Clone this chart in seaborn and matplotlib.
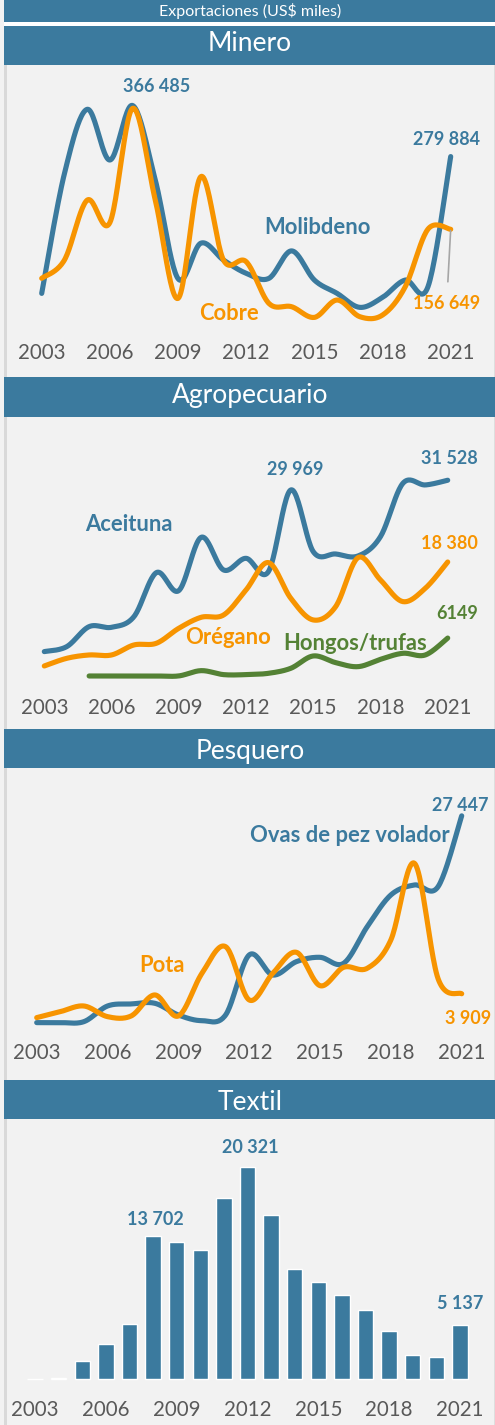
import numpy as np
import matplotlib
matplotlib.use("Agg")
import matplotlib.pyplot as plt
import seaborn as sns
from matplotlib.patches import Rectangle

# ---------------- data ----------------
years = list(range(2003, 2022))
tick_years = [2003, 2006, 2009, 2012, 2015, 2018, 2021]

molibdeno = [48000, 251000, 360000, 274000, 366485, 240000, 73000, 133000, 104500,
             82000, 73500, 120000, 70600, 48000, 24300, 41200, 70600, 59300, 279884]
cobre = [73500, 104500, 206000, 168000, 361600, 206000, 39500, 245800, 104500,
         101700, 31000, 25400, 7300, 36700, 8500, 11300, 59300, 156900, 156649]

aceituna = [3970, 4770, 7990, 7880, 9590, 16670, 13780, 22350, 17100, 18970,
            16830, 29969, 20050, 19670, 19350, 22460, 31030, 30770, 31528]
oregano = [1660, 2890, 3430, 3430, 5040, 5310, 7720, 9490, 9860, 13880,
           18280, 12540, 9060, 11200, 19080, 15490, 12010, 14150, 18380]
hongos_years = list(range(2005, 2022))
hongos = [50, 50, 50, 50, 60, 910, 270, 270, 480, 1290, 3270, 2200, 1550,
          2730, 3700, 3430, 6149]

ovas = [90, 90, 220, 2290, 2560, 2650, 1100, 350, 1100, 9040, 6390, 8160,
        8730, 7940, 12790, 16980, 18300, 18080, 27447]
pota = [750, 1540, 2290, 880, 970, 3750, 970, 6620, 10140, 3090, 6620, 9390,
        4980, 7410, 7280, 11030, 21170, 5900, 3909]

textil = [40, 80, 1720, 3320, 5260, 13702, 13080, 12310, 17290, 20321, 15660,
          10560, 9280, 8010, 6600, 4590, 2330, 2140, 5137]

main_title = "Exportaciones (US$ miles)"
sections = ["Minero", "Agropecuario", "Pesquero", "Textil"]

# ---------------- style ----------------
BLUE = "#3B7A9E"
ORANGE = "#F79400"
GREEN = "#548235"
BG = "#F2F2F2"
TICK = "#595959"

sns.set_style("white")
plt.rcParams["font.family"] = ["Lato", "DejaVu Sans"]

W, H = 495, 1425
fig = plt.figure(figsize=(W / 100, H / 100), dpi=100, facecolor=BG)


def fx(x):
    return x / W


def fy(y):
    return 1 - y / H


def rect(x0, y0, x1, y1, color):
    fig.add_artist(Rectangle((fx(x0), fy(y1)), (x1 - x0) / W, (y1 - y0) / H,
                             transform=fig.transFigure, color=color, lw=0,
                             zorder=0))


def smooth(xs, ys, n=24):
    P = np.column_stack([np.asarray(xs, float), np.asarray(ys, float)])
    ext = np.vstack([P[0], P, P[-1]])
    out = []
    for i in range(len(P) - 1):
        p0, p1, p2, p3 = ext[i], ext[i + 1], ext[i + 2], ext[i + 3]
        c1 = p1 + (p2 - p0) / 6
        c2 = p2 - (p3 - p1) / 6
        t = np.linspace(0, 1, n, endpoint=(i == len(P) - 2))[:, None]
        out.append((1 - t) ** 3 * p1 + 3 * (1 - t) ** 2 * t * c1
                   + 3 * (1 - t) * t ** 2 * c2 + t ** 3 * p2)
    pts = np.vstack(out)
    return pts[:, 0], pts[:, 1]


def make_ax(top, bottom, x0px, x1px, zero_px, per_px, tick_center,
            left=10, right=490):
    ax = fig.add_axes([fx(left), fy(bottom), (right - left) / W,
                       (bottom - top) / H])
    ax.set_facecolor("none")
    for s in ax.spines.values():
        s.set_visible(False)
    step = (x1px - x0px) / 18
    ax._lims = ((2003 - (x0px - left) / step, 2003 + (right - x0px) / step),
                ((zero_px - bottom) * per_px, (zero_px - top) * per_px))
    ax._pad = (tick_center - bottom) * 0.72
    return ax


def finish(ax):
    ax.set_xlim(*ax._lims[0])
    ax.set_ylim(*ax._lims[1])
    ax.set_xticks(tick_years)
    ax.set_xticklabels([str(y) for y in tick_years])
    ax.set_yticks([])
    ax.set_xlabel("")
    ax.set_ylabel("")
    ax.tick_params(axis="x", length=0, pad=ax._pad, labelsize=14.8,
                   labelcolor=TICK)
    plt.setp(ax.get_xticklabels(), va="center")


def line(ax, xs, ys, color):
    sx, sy = smooth(xs, ys)
    sns.lineplot(x=sx, y=sy, ax=ax, color=color, lw=3.7, sort=False,
                 estimator=None)
    ax.lines[-1].set_solid_capstyle("round")
    ax.lines[-1].set_clip_on(False)


def fmt(v):
    return f"{v:,}".replace(",", " ")


def vlabel(ax, x, y, dx, dy, color, text=None, **kw):
    ax.annotate(text if text is not None else fmt(y), xy=(x, y),
                xytext=(dx, -dy), textcoords="offset pixels",
                ha="center", va="center", fontsize=13, fontweight="bold",
                color=color, annotation_clip=False, **kw)


def name(x, y, text, color):
    fig.text(fx(x), fy(y), text, ha="center", va="center", fontsize=15.8,
             fontweight="bold", color=color)


# ---------------- background frame ----------------
rect(4, 0, 495, 22, BLUE)
rect(4, 22, 495, 26, "white")
rect(4, 26, 7, H, "#D9D9D9")
rect(493.5, 26, 495, H, "#DEDEDE")
headers = [(26, 65, 51), (377, 417, 403), (729, 768, 759), (1080, 1119, 1110)]
for (t, b, base), txt in zip(headers, sections):
    rect(4, t, 495, b, BLUE)
    fig.text(fx(250), fy(base), txt, ha="center", va="baseline",
             fontsize=19, color="white")
fig.text(fx(250), fy(11), main_title, ha="center", va="center",
         fontsize=11.5, color="white")

# ---------------- Minero ----------------
ax = make_ax(68, 335, 41.7, 450.7, 321.7, 1695, 353)
line(ax, years, molibdeno, BLUE)
line(ax, years, cobre, ORANGE)
finish(ax)
vlabel(ax, 2007, molibdeno[4], 24, -18.5, BLUE)
vlabel(ax, 2021, molibdeno[-1], -4, -17, BLUE)
vlabel(ax, 2021, cobre[-1], -4, 74, ORANGE,
       arrowprops=dict(arrowstyle="-", color="#A6A6A6", lw=1.2,
                       shrinkA=7, shrinkB=1))
name(317, 228, "Molibdeno", BLUE)
name(229, 313, "Cobre", ORANGE)

# ---------------- Agropecuario ----------------
ax = make_ax(420, 690, 44.3, 447.7, 676.3, 160.8, 707.7)
line(ax, years, aceituna, BLUE)
line(ax, years, oregano, ORANGE)
line(ax, hongos_years, hongos, GREEN)
finish(ax)
vlabel(ax, 2014, aceituna[11], 4, -20, BLUE)
vlabel(ax, 2021, aceituna[-1], 1.6, -22, BLUE)
vlabel(ax, 2021, oregano[-1], 1.6, -18.7, ORANGE)
vlabel(ax, 2021, hongos[-1], 9.6, -24.8, GREEN, text=str(hongos[-1]))
name(129, 524, "Aceituna", BLUE)
name(227.7, 637.7, "Orégano", ORANGE)
name(355, 643.3, "Hongos/trufas", GREEN)

# ---------------- Pesquero ----------------
ax = make_ax(772, 1036, 36.7, 461.7, 1023.3, 132.3, 1053.3)
line(ax, years, ovas, BLUE)
line(ax, years, pota, ORANGE)
finish(ax)
vlabel(ax, 2021, ovas[-1], -1.7, -10.8, BLUE)
vlabel(ax, 2021, pota[-1], 6.6, 24.5, ORANGE)
name(350, 835, "Ovas de pez volador", BLUE)
name(162.3, 965, "Pota", ORANGE)

# ---------------- Textil ----------------
ax = make_ax(1123, 1392, 35, 460, 1379, 95.7, 1410)
sns.barplot(x=years, y=textil, ax=ax, native_scale=True, width=0.65,
            color=BLUE, saturation=1, errorbar=None)
finish(ax)
vlabel(ax, 2012, textil[9], 2.5, -19, BLUE)
vlabel(ax, 2008, textil[5], 2.7, -16.5, BLUE)
vlabel(ax, 2021, textil[-1], 0, -22, BLUE)

fig.savefig("out.png", dpi=100, facecolor=BG)
